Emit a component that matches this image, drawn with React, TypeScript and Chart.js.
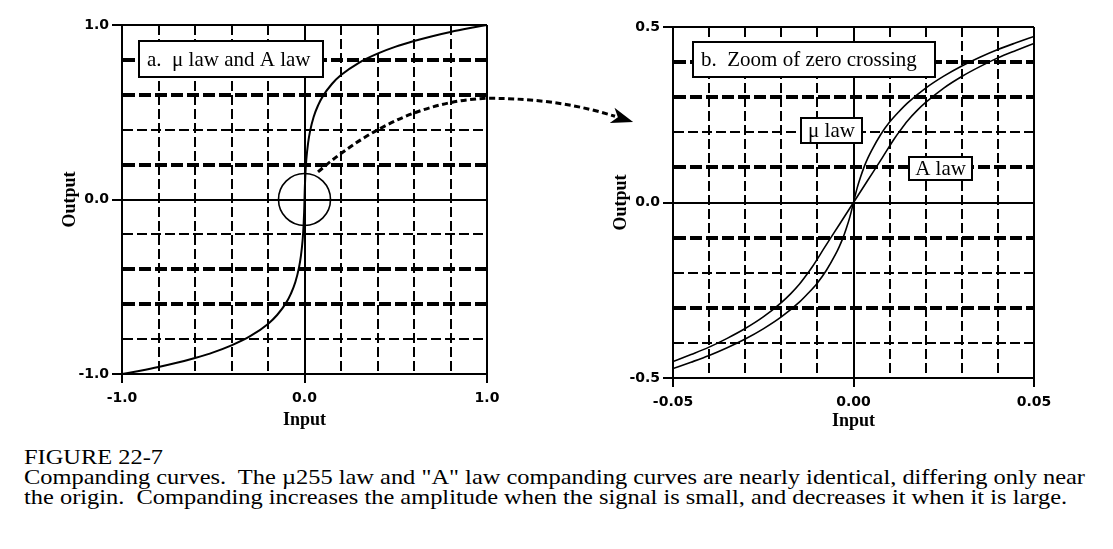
import React, { useEffect, useLayoutEffect, useRef } from 'react';
import { Chart, registerables } from 'chart.js';

Chart.register(...registerables);

// ---------- data ----------
// panel a: full-range companding curve
const fullInput = [-1, -0.9, -0.8, -0.7, -0.6, -0.5, -0.4, -0.3, -0.2, -0.15, -0.1, -0.075, -0.05, -0.03, -0.02, -0.01, -0.005, -0.002, -0.001, 0,
  0.001, 0.002, 0.005, 0.01, 0.02, 0.03, 0.05, 0.075, 0.1, 0.15, 0.2, 0.3, 0.4, 0.5, 0.6, 0.7, 0.8, 0.9, 1];
const fullOutput = [-1, -0.981, -0.96, -0.936, -0.908, -0.876, -0.836, -0.785, -0.713, -0.662, -0.591, -0.541, -0.473, -0.389, -0.326, -0.229, -0.148, -0.074, -0.041, 0,
  0.041, 0.074, 0.148, 0.229, 0.326, 0.389, 0.473, 0.541, 0.591, 0.662, 0.713, 0.785, 0.836, 0.876, 0.908, 0.936, 0.96, 0.981, 1];

// panel b: zoom of zero crossing, mu law
const muInput = [-0.05, -0.045, -0.04, -0.035, -0.03, -0.025, -0.02, -0.015, -0.0125, -0.01, -0.0075, -0.005, -0.004, -0.003, -0.002, -0.001, 0,
  0.001, 0.002, 0.003, 0.004, 0.005, 0.0075, 0.01, 0.0125, 0.015, 0.02, 0.025, 0.03, 0.035, 0.04, 0.045, 0.05];
const muOutput = [-0.473, -0.455, -0.436, -0.414, -0.389, -0.36, -0.326, -0.284, -0.258, -0.229, -0.193, -0.148, -0.127, -0.103, -0.074, -0.041, 0,
  0.041, 0.074, 0.103, 0.127, 0.148, 0.193, 0.229, 0.258, 0.284, 0.326, 0.36, 0.389, 0.414, 0.436, 0.455, 0.473];

// panel b: A law
const aInput = [-0.05, -0.045, -0.04, -0.035, -0.03, -0.025, -0.02, -0.0175, -0.015, -0.0125, -0.0114, -0.008, -0.004, 0,
  0.004, 0.008, 0.0114, 0.0125, 0.015, 0.0175, 0.02, 0.025, 0.03, 0.035, 0.04, 0.045, 0.05];
const aOutput = [-0.453, -0.433, -0.412, -0.387, -0.359, -0.326, -0.285, -0.261, -0.233, -0.199, -0.183, -0.128, -0.064, 0,
  0.064, 0.128, 0.183, 0.199, 0.233, 0.261, 0.285, 0.326, 0.359, 0.387, 0.412, 0.433, 0.453];

// grid / tick values
const fullGrid = [-1, -0.8, -0.6, -0.4, -0.2, 0, 0.2, 0.4, 0.6, 0.8, 1];
const fullTickValues = [-1, 0, 1];
const fullTickLabels = ['-1.0', '0.0', '1.0'];
const fullThickRows = [0.8, 0.6, 0.2, -0.4, -0.6];

const zoomXGrid = [-0.05, -0.04, -0.03, -0.02, -0.01, 0, 0.01, 0.02, 0.03, 0.04, 0.05];
const zoomXTickValues = [-0.05, 0, 0.05];
const zoomXTickLabels = ['-0.05', '0.00', '0.05'];
const zoomYGrid = [-0.5, -0.4, -0.3, -0.2, -0.1, 0, 0.1, 0.2, 0.3, 0.4, 0.5];
const zoomYTickValues = [-0.5, 0, 0.5];
const zoomYTickLabels = ['-0.5', '0.0', '0.5'];
const zoomThickRows = [0.4, 0.3, 0.1, -0.1, -0.3];

const SERIF = "'Liberation Serif', 'Times New Roman', serif";
const SANS = "'DejaVu Sans', Verdana, sans-serif";

const near = (a: number, b: number) => Math.abs(a - b) < 1e-7;
const has = (arr: number[], v: number) => arr.some((a) => near(a, v));

function axis(o: {
  grid: number[]; tickValues: number[]; tickLabels: string[]; thick: number[];
  horizontal: boolean; size: number; title: string; titlePad: any; tickLength: number; tickPad: number;
}) {
  const min = o.grid[0];
  const max = o.grid[o.grid.length - 1];
  const solid = [min, 0, max];
  const valOf = (ctx: any) => (ctx && ctx.tick ? ctx.tick.value : undefined);
  return {
    type: 'linear',
    position: o.horizontal ? 'bottom' : 'left',
    min, max,
    afterBuildTicks: (scale: any) => { scale.ticks = o.grid.map((v) => ({ value: v })); },
    afterFit: (scale: any) => { if (o.horizontal) scale.height = o.size; else scale.width = o.size; },
    ticks: {
      autoSkip: false, maxRotation: 0, minRotation: 0, color: '#000', padding: o.tickPad,
      font: { family: SANS, size: 14, weight: 'bold' },
      callback: (v: number) => {
        const i = o.tickValues.findIndex((t) => near(t, v));
        return i >= 0 ? o.tickLabels[i] : '';
      },
    },
    grid: {
      display: true, drawOnChartArea: true, drawTicks: true, color: '#000',
      tickLength: o.tickLength, tickWidth: 2,
      tickColor: (ctx: any) => { const v = valOf(ctx); return v !== undefined && has(o.tickValues, v) ? '#000' : 'rgba(0,0,0,0)'; },
      lineWidth: (ctx: any) => {
        const v = valOf(ctx);
        if (v === undefined) return 2;
        if (has(solid, v)) return 2;
        if (!o.horizontal && has(o.thick, v)) return 4;
        return 2;
      },
    },
    border: {
      display: true, color: '#000', width: 2,
      dash: (ctx: any) => {
        const v = valOf(ctx);
        if (v === undefined || has(solid, v)) return [];
        if (!o.horizontal && has(o.thick, v)) return [12, 4];
        return [10, 4];
      },
    },
    title: { display: true, text: o.title, color: '#000', font: { family: SERIF, size: 18, weight: 'bold' }, padding: o.titlePad },
  };
}

type Box = { text: string; x1: number; x2: number; y1: number; y2: number; align: 'left' | 'center' };

const fullBoxes: Box[] = [{ text: 'a.  \u03bc law and A law', x1: -0.907, x2: 0.101, y1: 0.702, y2: 0.908, align: 'left' }];
const zoomBoxes: Box[] = [
  { text: 'b.  Zoom of zero crossing', x1: -0.0445, x2: 0.0226, y1: 0.358, y2: 0.457, align: 'left' },
  { text: '\u03bc law', x1: -0.0145, x2: 0.0024, y1: 0.17, y2: 0.241, align: 'center' },
  { text: 'A law', x1: 0.0154, x2: 0.0328, y1: 0.064, y2: 0.13, align: 'center' },
];

function drawBoxes(chart: any, boxes: Box[]) {
  const { ctx, scales } = chart;
  const x = scales.x, y = scales.y;
  ctx.save();
  for (const b of boxes) {
    const l = Math.round(x.getPixelForValue(b.x1)), r = Math.round(x.getPixelForValue(b.x2));
    const t = Math.round(y.getPixelForValue(b.y2)), bt = Math.round(y.getPixelForValue(b.y1));
    ctx.fillStyle = '#fff';
    ctx.fillRect(l, t, r - l, bt - t);
    ctx.strokeStyle = '#000';
    ctx.lineWidth = 2;
    ctx.setLineDash([]);
    ctx.strokeRect(l, t, r - l, bt - t);
    ctx.fillStyle = '#000';
    ctx.font = `21px ${SERIF}`;
    ctx.textBaseline = 'middle';
    if (b.align === 'left') { ctx.textAlign = 'left'; ctx.fillText(b.text, l + 8, (t + bt) / 2 + 1); }
    else { ctx.textAlign = 'center'; ctx.fillText(b.text, (l + r) / 2, (t + bt) / 2 + 1); }
  }
  ctx.restore();
}

const fullPlugin = {
  id: 'fullAnnot',
  afterDatasetsDraw(chart: any) {
    const { ctx, scales } = chart;
    const x = scales.x, y = scales.y;
    // circle around the origin
    const cx = x.getPixelForValue(0), cy = y.getPixelForValue(0);
    ctx.save();
    ctx.strokeStyle = '#000';
    ctx.lineWidth = 1.6;
    ctx.setLineDash([]);
    ctx.beginPath();
    ctx.arc(cx, cy, 26, 0, Math.PI * 2);
    ctx.stroke();
    // dashed arrow to panel b
    const sx = x.getPixelForValue(0.074), sy = y.getPixelForValue(0.158);
    const right = chart.chartArea.right;
    const my = y.getPixelForValue(0.58);
    ctx.lineWidth = 3;
    ctx.setLineDash([6, 3.5]);
    ctx.beginPath();
    ctx.moveTo(sx, sy);
    ctx.quadraticCurveTo(sx + 82, my + 3, right, my);
    ctx.bezierCurveTo(right + 53, my, right + 93, my + 7, right + 128, my + 18);
    ctx.stroke();
    // arrow head
    const ex = right + 128, ey = my + 18;
    const dx = 35, dy = 11, len = Math.hypot(dx, dy);
    const ux = dx / len, uy = dy / len, nx = -uy, ny = ux;
    const tx = ex + 19 * ux, ty = ey + 19 * uy;
    const bx = tx - 22 * ux, by = ty - 22 * uy;
    ctx.setLineDash([]);
    ctx.fillStyle = '#000';
    ctx.beginPath();
    ctx.moveTo(tx, ty);
    ctx.lineTo(bx - 8 * nx, by - 8 * ny);
    ctx.lineTo(tx - 16 * ux, ty - 16 * uy);
    ctx.lineTo(bx + 8 * nx, by + 8 * ny);
    ctx.closePath();
    ctx.fill();
    ctx.restore();
    drawBoxes(chart, fullBoxes);
  },
};

const zoomPlugin = {
  id: 'zoomAnnot',
  afterDatasetsDraw(chart: any) { drawBoxes(chart, zoomBoxes); },
};

const pts = (xs: number[], ys: number[]) => xs.map((v, i) => ({ x: v, y: ys[i] }));
const lineDs = (data: any[], w: number) => ({
  data, showLine: true, borderColor: '#000', borderWidth: w, pointRadius: 0, fill: false,
  cubicInterpolationMode: 'monotone',
});

function FullChart() {
  const ref = useRef<HTMLCanvasElement>(null);
  useEffect(() => {
    const chart = new Chart(ref.current as HTMLCanvasElement, {
      type: 'scatter',
      data: { datasets: [lineDs(pts(fullInput, fullOutput), 2)] as any },
      options: {
        responsive: false, animation: false, devicePixelRatio: 1, events: [],
        layout: { padding: { left: 50, right: 163, top: 25, bottom: 8 } },
        plugins: { legend: { display: false }, tooltip: { enabled: false } },
        scales: {
          x: axis({ grid: fullGrid, tickValues: fullTickValues, tickLabels: fullTickLabels, thick: [], horizontal: true, size: 58, title: 'Input', titlePad: { top: 0, bottom: 1 }, tickLength: 9, tickPad: 7 }),
          y: axis({ grid: fullGrid, tickValues: fullTickValues, tickLabels: fullTickLabels, thick: fullThickRows, horizontal: false, size: 72, title: 'Output', titlePad: { top: 10, bottom: 0 }, tickLength: 10, tickPad: 3 }),
        } as any,
      },
      plugins: [fullPlugin],
    } as any);
    return () => chart.destroy();
  }, []);
  return <canvas ref={ref} width={650} height={440} style={{ position: 'absolute', left: 0, top: 0 }} />;
}

function ZoomChart() {
  const ref = useRef<HTMLCanvasElement>(null);
  useEffect(() => {
    const chart = new Chart(ref.current as HTMLCanvasElement, {
      type: 'scatter',
      data: { datasets: [lineDs(pts(muInput, muOutput), 1.6), lineDs(pts(aInput, aOutput), 1.6)] as any },
      options: {
        responsive: false, animation: false, devicePixelRatio: 1, events: [],
        layout: { padding: { left: 40, right: 79, top: 27, bottom: 8 } },
        plugins: { legend: { display: false }, tooltip: { enabled: false } },
        scales: {
          x: axis({ grid: zoomXGrid, tickValues: zoomXTickValues, tickLabels: zoomXTickLabels, thick: [], horizontal: true, size: 54, title: 'Input', titlePad: { top: 0, bottom: 0 }, tickLength: 9, tickPad: 7 }),
          y: axis({ grid: zoomYGrid, tickValues: zoomYTickValues, tickLabels: zoomYTickLabels, thick: zoomThickRows, horizontal: false, size: 73, title: 'Output', titlePad: { top: 11, bottom: 0 }, tickLength: 10, tickPad: 3 }),
        } as any,
      },
      plugins: [zoomPlugin],
    } as any);
    return () => chart.destroy();
  }, []);
  return <canvas ref={ref} width={553} height={440} style={{ position: 'absolute', left: 560, top: 0 }} />;
}

const captionTitle = 'FIGURE 22-7';
const captionLines = [
  'Companding curves.  The \u00b5255 law and "A" law companding curves are nearly identical, differing only near',
  'the origin.  Companding increases the amplitude when the signal is small, and decreases it when it is large.',
];

function Caption() {
  const ref = useRef<HTMLDivElement>(null);
  useLayoutEffect(() => {
    const el = ref.current;
    if (!el) return;
    const probe = el.querySelector('[data-probe]') as HTMLElement;
    const w = probe.getBoundingClientRect().width;
    if (w > 0) el.style.transform = `scaleX(${1061 / w})`;
  }, []);
  return (
    <div ref={ref} style={{ position: 'absolute', left: 24, top: 447, fontFamily: SERIF, fontSize: 21, lineHeight: '20px', color: '#000', whiteSpace: 'pre', transformOrigin: '0 0' }}>
      <div>{captionTitle}</div>
      {captionLines.map((l, i) => <div key={i}><span data-probe={i === 0 ? '1' : undefined} style={{ display: 'inline-block' }}>{l}</span></div>)}
    </div>
  );
}

export default function App() {
  return (
    <div style={{ position: 'absolute', left: 0, top: 0, width: 1113, height: 549, background: '#fff', overflow: 'hidden' }}>
      <FullChart />
      <ZoomChart />
      <Caption />
    </div>
  );
}
